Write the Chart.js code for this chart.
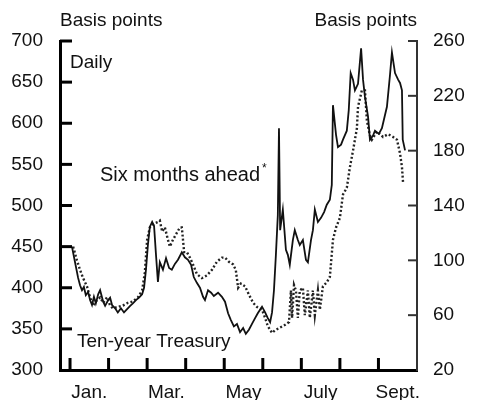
<!DOCTYPE html>
<html>
<head>
<meta charset="utf-8">
<script src="https://cdn.jsdelivr.net/npm/chart.js@4.4.0/dist/chart.umd.min.js"></script>
<style>
  html, body { margin: 0; padding: 0; background: #fff; }
  #wrap { width: 480px; height: 400px; }
</style>
</head>
<body>
<div id="wrap"><canvas id="myChart" width="480" height="400"></canvas></div>
<script>
// x values are in months from Jan. 1 (0 = start of Jan., 9 = end of Sept.)
const monthTicks = [0, 1, 2, 3, 4, 5, 6, 7, 8];
const monthLabels = ["Jan.", "Mar.", "May", "July", "Sept."];
const monthLabelPos = [0.5, 2.5, 4.5, 6.5, 8.5];

// left axis (basis points)
const leftTicks = [300, 350, 400, 450, 500, 550, 600, 650, 700];
// right axis (basis points)
const rightTicks = [20, 60, 100, 140, 180, 220, 260];

// Ten-year Treasury spread, daily (left axis)
const solidMonths = [
  0.05, 0.13, 0.21, 0.26, 0.31, 0.36, 0.41, 0.47, 0.52, 0.57,
  0.62, 0.67, 0.73, 0.78, 0.86, 0.91, 0.99, 1.04, 1.09, 1.17,
  1.24, 1.32, 1.40, 1.48, 1.56, 1.63, 1.71, 1.79, 1.87, 1.92,
  1.97, 2.02, 2.07, 2.13, 2.18, 2.23, 2.28, 2.33, 2.41, 2.49,
  2.57, 2.64, 2.72, 2.80, 2.90, 2.98, 3.06, 3.14, 3.21, 3.29,
  3.37, 3.45, 3.50, 3.58, 3.66, 3.73, 3.84, 3.94, 4.02, 4.10,
  4.17, 4.25, 4.33, 4.41, 4.49, 4.56, 4.64, 4.72, 4.80, 4.87,
  4.98, 5.06, 5.13, 5.19, 5.24, 5.29, 5.34, 5.39, 5.42, 5.45,
  5.52, 5.60, 5.65, 5.70, 5.78, 5.83, 5.91, 5.96, 6.04, 6.12,
  6.17, 6.25, 6.30, 6.35, 6.43, 6.51, 6.59,
  6.66, 6.74, 6.79, 6.82, 6.90, 6.95, 7.03, 7.08, 7.18, 7.23,
  7.28, 7.34, 7.39, 7.47, 7.55, 7.60, 7.65, 7.73, 7.78, 7.86,
  7.91, 8.01, 8.09, 8.17, 8.22, 8.30, 8.35, 8.43, 8.51, 8.56,
  8.61, 8.63, 8.69
];
const solidValues = [
  450, 431, 412, 403, 397, 401, 391, 395, 385, 379,
  389, 381, 392, 397, 383, 378, 385, 388, 379, 375,
  370, 375, 370, 374, 378, 381, 385, 388, 392, 400,
  422, 452, 474, 480, 475, 440, 407, 431, 422, 436,
  424, 422, 429, 434, 443, 437, 434, 428, 413, 406,
  400, 389, 385, 397, 394, 390, 394, 389, 383, 369,
  361, 353, 356, 346, 351, 344, 349, 356, 363, 369,
  377, 370, 363, 358, 370, 397, 440, 488, 594, 470,
  495, 446, 440, 428, 458, 470, 458, 452, 458, 434,
  431, 458, 470, 495, 480, 485, 492,
  501, 507, 525, 622, 586, 571, 574, 580, 591, 616,
  661, 653, 640, 648, 691, 653, 632, 608, 580, 585,
  591, 587, 594, 610, 620, 659, 686, 661, 653, 649,
  640, 580, 567
];

// Six months ahead (right axis)
const dottedMonths = [
  0.08, 0.18, 0.26, 0.34, 0.44, 0.52, 0.60, 0.70, 0.78, 0.86,
  0.96, 1.04, 1.11, 1.24, 1.37, 1.50, 1.63, 1.76, 1.87, 1.94,
  2.00, 2.07, 2.20, 2.28, 2.33, 2.39, 2.46, 2.54, 2.59, 2.67,
  2.77, 2.85, 2.90, 2.96, 3.03, 3.11, 3.19, 3.29, 3.42, 3.55,
  3.68, 3.81, 3.94, 4.02, 4.12, 4.23, 4.30, 4.36, 4.43, 4.54,
  4.64, 4.75, 4.85, 4.98, 5.06, 5.13, 5.24, 5.32, 5.45, 5.58,
  5.68, 5.73, 5.76, 5.81, 5.86, 5.91, 5.96, 6.04, 6.09, 6.17,
  6.22, 6.30, 6.35, 6.43, 6.48, 6.56, 6.66, 6.74, 6.82, 6.90,
  7.00, 7.08, 7.18, 7.26, 7.34, 7.44, 7.47, 7.57, 7.65, 7.70,
  7.78, 7.83, 7.96, 8.12, 8.25, 8.38, 8.48, 8.56, 8.61, 8.64
];
const dottedValues = [
  110, 100, 93, 87, 81, 73, 67, 71, 73, 69,
  73, 67, 65, 66, 67, 69, 70, 73, 78, 91,
  115, 124, 127, 128, 129, 121, 124, 115, 110, 115,
  120, 124, 124, 106, 106, 102, 97, 90, 87, 89,
  93, 99, 102, 102, 99, 97, 93, 80, 83, 81,
  75, 69, 66, 64, 58, 52, 47, 49, 51, 53,
  55, 78, 58, 82, 78, 58, 78, 80, 60, 78,
  58, 78, 60, 78, 64, 81, 84, 88, 115, 124,
  131, 148, 153, 168, 180, 196, 212, 224, 224, 202,
  191, 188, 194, 190, 192, 190, 188, 178, 168, 156
];

const FONT = "'Liberation Sans', Arial, Helvetica, sans-serif";

// ticks inside the frame + the text notes
const decorPlugin = {
  id: "decor",
  afterDatasetsDraw(chart) {
    const { ctx, chartArea, scales } = chart;
    ctx.save();
    ctx.strokeStyle = "#000";
    ctx.lineCap = "butt";

    // left ticks
    ctx.lineWidth = 3;
    leftTicks.forEach((v) => {
      if (v === 300) return;
      let y = scales.y.getPixelForValue(v);
      ctx.beginPath();
      ctx.moveTo(chartArea.left, y);
      ctx.lineTo(chartArea.left + 12, y);
      ctx.stroke();
    });

    // right ticks
    ctx.lineWidth = 2;
    ctx.strokeStyle = "#333";
    rightTicks.forEach((v) => {
      if (v === 20) return;
      let y = scales.y1.getPixelForValue(v);
      ctx.beginPath();
      ctx.moveTo(chartArea.right - 9, y);
      ctx.lineTo(chartArea.right, y);
      ctx.stroke();
    });

    // month ticks
    ctx.lineWidth = 3;
    ctx.strokeStyle = "#000";
    monthTicks.forEach((m) => {
      let x = scales.x.getPixelForValue(m);
      ctx.beginPath();
      ctx.moveTo(x, chartArea.bottom);
      ctx.lineTo(x, chartArea.bottom - 12);
      ctx.stroke();
    });

    // notes
    ctx.fillStyle = "#111";
    ctx.font = "19px " + FONT;
    ctx.textBaseline = "middle";
    ctx.textAlign = "left";
    ctx.fillText("Basis points", 60, 21);
    ctx.fillText("Daily", 70, 63);
    ctx.fillText("Ten-year Treasury", 77, 342);
    ctx.textAlign = "right";
    ctx.fillText("Basis points", 417, 21);
    ctx.textAlign = "left";
    ctx.font = "20px " + FONT;
    ctx.fillText("Six months ahead", 100, 175);
    ctx.font = "12px " + FONT;
    ctx.fillText("*", 262, 169);
    ctx.restore();
  },
};

let points = (xs, ys) => xs.map((x, i) => ({ x: x, y: ys[i] }));

let ctx = document.getElementById("myChart");
let theChart = new Chart(ctx, {
  type: "line",
  data: {
    datasets: [
      {
        label: "Ten-year Treasury",
        data: points(solidMonths, solidValues),
        yAxisID: "y",
        borderColor: "#111",
        borderWidth: 1.8,
        pointRadius: 0,
        tension: 0,
      },
      {
        label: "Six months ahead",
        data: points(dottedMonths, dottedValues),
        yAxisID: "y1",
        borderColor: "#222",
        borderWidth: 2.4,
        borderDash: [2, 2.2],
        pointRadius: 0,
        tension: 0,
      },
    ],
  },
  options: {
    responsive: false,
    animation: false,
    layout: { padding: { top: 41, left: 0, right: 0, bottom: 0 } },
    plugins: { legend: { display: false }, tooltip: { enabled: false } },
    scales: {
      x: {
        type: "linear",
        position: "bottom",
        min: -0.26,
        max: 9,
        grid: { display: false, drawTicks: false },
        border: { display: true, width: 3, color: "#000" },
        afterBuildTicks: (scale) => {
          scale.ticks = monthLabelPos.map((v) => ({ value: v }));
        },
        afterFit: (scale) => {
          scale.height = 30;
        },
        ticks: {
          autoSkip: false,
          maxRotation: 0,
          padding: 11,
          color: "#111",
          font: { family: FONT, size: 19 },
          callback: (v) => monthLabels[monthLabelPos.indexOf(v)],
        },
      },
      y: {
        position: "left",
        min: 300,
        max: 700,
        grid: { display: false, drawTicks: false },
        border: { display: true, width: 3, color: "#000" },
        afterBuildTicks: (scale) => {
          scale.ticks = leftTicks.map((v) => ({ value: v }));
        },
        afterFit: (scale) => {
          scale.width = 60;
        },
        ticks: {
          padding: 17,
          color: "#111",
          font: { family: FONT, size: 19 },
        },
      },
      y1: {
        position: "right",
        min: 20,
        max: 260,
        grid: { display: false, drawTicks: false },
        border: { display: true, width: 2, color: "#333" },
        afterBuildTicks: (scale) => {
          scale.ticks = rightTicks.map((v) => ({ value: v }));
        },
        afterFit: (scale) => {
          scale.width = 63;
        },
        ticks: {
          padding: 16,
          color: "#111",
          font: { family: FONT, size: 19 },
        },
      },
    },
  },
  plugins: [decorPlugin],
});
</script>
</body>
</html>
